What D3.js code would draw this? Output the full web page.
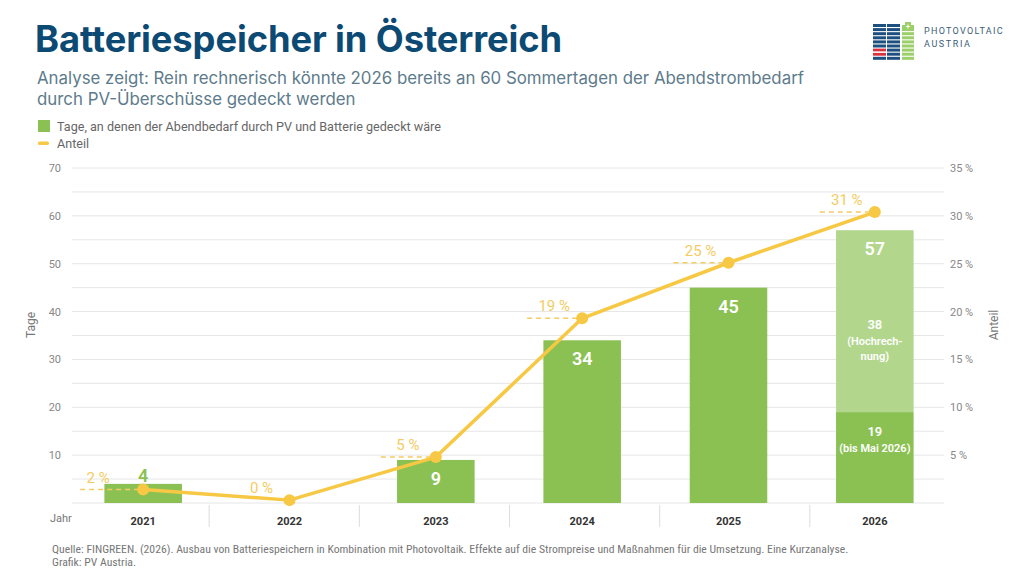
<!DOCTYPE html>
<html>
<head>
<meta charset="utf-8">
<script src="https://cdn.jsdelivr.net/npm/d3@7"></script>
<style>
  body { margin: 0; background: #fff; }
  svg { display: block; }
  text { font-family: Roboto, "Noto Sans", sans-serif; }
</style>
</head>
<body>
<div id="chart"></div>
<script>
const years = ['2021', '2022', '2023', '2024', '2025', '2026'];
const daysMeasured = [4, 0, 9, 34, 45, 19];
const daysProjected = [0, 0, 0, 0, 0, 38];
const share = [1.4, 0.3, 4.8, 19.3, 25.1, 30.4];
const shareLabels = ['2 %', '0 %', '5 %', '19 %', '25 %', '31 %'];
const leftTicks = [10, 20, 30, 40, 50, 60, 70];
const rightTicks = [5, 10, 15, 20, 25, 30, 35];
const gridValues = d3.range(0, 75, 5);

const width = 1024, height = 576;
const green = '#8bc153', lightGreen = '#b3d68d', yellow = '#f7c843', yellowText = '#f3cc62';

const svg = d3.select('#chart').append('svg')
    .attr('width', width)
    .attr('height', height);

// title block
svg.append('text')
    .attr('x', 35).attr('y', 52)
    .style('font-family', 'Inter, sans-serif')
    .style('font-weight', 700)
    .style('font-size', '36.3px')
    .style('letter-spacing', '-0.1px')
    .attr('fill', '#0c4a73')
    .text('Batteriespeicher in Österreich');

const sub = svg.append('text')
    .style('font-family', 'Inter, sans-serif')
    .style('font-size', '16.85px')
    .attr('fill', '#5d7b8b');
sub.append('tspan').attr('x', 37).attr('y', 84)
    .text('Analyse zeigt: Rein rechnerisch könnte 2026 bereits an 60 Sommertagen der Abendstrombedarf');
sub.append('tspan').attr('x', 37).attr('y', 105)
    .text('durch PV-Überschüsse gedeckt werden');

// legend
svg.append('rect').attr('x', 38).attr('y', 120).attr('width', 12).attr('height', 12).attr('fill', green);
svg.append('text').attr('x', 57).attr('y', 130.5)
    .style('font-size', '12.6px').attr('fill', '#666')
    .text('Tage, an denen der Abendbedarf durch PV und Batterie gedeckt wäre');
svg.append('rect').attr('x', 38).attr('y', 141.5).attr('width', 11).attr('height', 3.5).attr('rx', 1.5).attr('fill', yellow);
svg.append('text').attr('x', 57).attr('y', 147.5)
    .style('font-size', '12.6px').attr('fill', '#666')
    .text('Anteil');

// logo
const logo = svg.append('g').attr('transform', 'translate(873,22)');
const rows = d3.range(9);
[0, 14].forEach(cx => {
  logo.selectAll(null).data(rows).enter().append('rect')
      .attr('x', cx).attr('y', r => 2 + r * 4.1)
      .attr('width', 13).attr('height', 3)
      .attr('fill', r => (cx === 0 && (r === 6 || r === 7)) ? '#d9323c' : '#1d4f80');
});
logo.append('rect').attr('x', 0).attr('y', 2 + 6 * 4.1 + 3).attr('width', 13).attr('height', 1.1).attr('fill', '#fff');
logo.selectAll(null).data(rows).enter().append('rect')
    .attr('x', 29).attr('y', r => 2 + r * 4.1)
    .attr('width', 12).attr('height', 3)
    .attr('fill', r => r === 0 ? 'none' : '#9ccf69');
logo.append('rect').attr('x', 29).attr('y', 3).attr('width', 12).attr('height', 4).attr('fill', '#9ccf69');
logo.append('rect').attr('x', 32).attr('y', 0).attr('width', 6).attr('height', 4).attr('fill', '#9ccf69');
logo.append('text').attr('x', 35).attr('y', 7).attr('text-anchor', 'middle')
    .style('font-size', '7px').style('font-weight', 700).attr('fill', '#fff').text('+');
logo.append('text').attr('x', 51).attr('y', 12)
    .style('font-size', '9px').style('letter-spacing', '1.3px').attr('fill', '#3b5d78')
    .text('PHOTOVOLTAIC');
logo.append('text').attr('x', 51).attr('y', 25)
    .style('font-size', '9px').style('letter-spacing', '1.6px').attr('fill', '#3b5d78')
    .text('AUSTRIA');

// scales
const x = d3.scaleBand()
    .domain(years)
    .range([70, 948])
    .paddingInner(0.47)
    .paddingOuter(0.235);

const xCol = d3.scaleBand()
    .domain(years)
    .range([59, 960]);

const y = d3.scaleLinear().domain([0, 70]).range([503, 168]);
const yR = d3.scaleLinear().domain([0, 35]).range([503, 168]);

const cx = d => x(d) + x.bandwidth() / 2;

// grid
svg.append('g').selectAll('line').data(gridValues).enter().append('line')
    .attr('x1', 72).attr('x2', 944)
    .attr('y1', d => y(d)).attr('y2', d => y(d))
    .attr('stroke', '#e6e6e6').attr('stroke-width', 1);

// axes
const yAxis = d3.axisLeft(y).tickValues(leftTicks).tickSize(0).tickPadding(0);
const yAxisGroup = svg.append('g')
    .attr('class', 'axis y-axis')
    .attr('transform', 'translate(61,0)')
    .call(yAxis);

const yAxisR = d3.axisRight(yR).tickValues(rightTicks).tickSize(0).tickPadding(0)
    .tickFormat(d => d + ' %');
const yAxisRGroup = svg.append('g')
    .attr('class', 'axis y-axis-right')
    .attr('transform', 'translate(950,0)')
    .call(yAxisR);

[yAxisGroup, yAxisRGroup].forEach(g => {
  g.select('.domain').remove();
  g.selectAll('text').style('font-size', '11px').attr('fill', '#888');
});

svg.append('text')
    .attr('transform', 'translate(35,325) rotate(-90)')
    .attr('text-anchor', 'middle')
    .style('font-size', '12px').attr('fill', '#777')
    .text('Tage');
svg.append('text')
    .attr('transform', 'translate(998,325) rotate(-90)')
    .attr('text-anchor', 'middle')
    .style('font-size', '12px').attr('fill', '#777')
    .text('Anteil');

// x axis
const xAxis = d3.axisBottom(x).tickSize(0).tickPadding(14);
const xAxisGroup = svg.append('g')
    .attr('class', 'axis x-axis')
    .attr('transform', 'translate(0,503)')
    .call(xAxis);
xAxisGroup.select('.domain').remove();
xAxisGroup.selectAll('text')
    .style('font-size', '11px').style('font-weight', 700).attr('fill', '#333');

svg.append('g').selectAll('line').data(years.slice(1)).enter().append('line')
    .attr('x1', d => xCol(d)).attr('x2', d => xCol(d))
    .attr('y1', 505).attr('y2', 527)
    .attr('stroke', '#ddd').attr('stroke-width', 1);

svg.append('text').attr('x', 50).attr('y', 522)
    .style('font-size', '11px').attr('fill', '#777').text('Jahr');

// bars
const barData = years.map((d, i) => ({
  year: d, measured: daysMeasured[i], projected: daysProjected[i],
  share: share[i], label: shareLabels[i]
}));
const isSmall = d => (y(0) - y(d.measured + d.projected)) < 25;

svg.selectAll('rect.bar')
    .data(barData.filter(d => d.measured > 0))
    .enter()
    .append('rect')
    .attr('class', 'bar')
    .attr('x', d => x(d.year))
    .attr('width', x.bandwidth())
    .attr('y', d => y(d.measured))
    .attr('height', d => y(0) - y(d.measured))
    .attr('fill', green);

svg.selectAll('rect.bar-proj')
    .data(barData.filter(d => d.projected > 0))
    .enter()
    .append('rect')
    .attr('class', 'bar-proj')
    .attr('x', d => x(d.year))
    .attr('width', x.bandwidth())
    .attr('y', d => y(d.measured + d.projected))
    .attr('height', d => y(d.measured) - y(d.measured + d.projected))
    .attr('fill', lightGreen);

// bar totals
svg.selectAll('text.total')
    .data(barData.filter(d => d.measured + d.projected > 0))
    .enter()
    .append('text')
    .attr('class', 'total')
    .attr('x', d => cx(d.year))
    .attr('y', d => {
      const top = y(d.measured + d.projected);
      return isSmall(d) ? top - 2 : top + 25;
    })
    .attr('text-anchor', 'middle')
    .style('font-size', '18px').style('font-weight', 600)
    .attr('fill', d => isSmall(d) ? green : '#fff')
    .text(d => d.measured + d.projected);

// split labels for the projected bar
const proj = barData.filter(d => d.projected > 0);
const projLabel = svg.selectAll('text.proj-label').data(proj).enter().append('text')
    .attr('class', 'proj-label')
    .attr('text-anchor', 'middle')
    .attr('fill', '#fff').style('font-size', '11px').style('font-weight', 600);
projLabel.append('tspan').attr('x', d => cx(d.year))
    .attr('y', d => y(d.measured + d.projected / 2) + 8)
    .style('font-size', '13px').text(d => d.projected);
projLabel.append('tspan').attr('x', d => cx(d.year)).attr('dy', 16).text('(Hochrech-');
projLabel.append('tspan').attr('x', d => cx(d.year)).attr('dy', 15).text('nung)');

const measLabel = svg.selectAll('text.meas-label').data(proj).enter().append('text')
    .attr('class', 'meas-label')
    .attr('text-anchor', 'middle')
    .attr('fill', '#fff').style('font-size', '11px').style('font-weight', 600);
measLabel.append('tspan').attr('x', d => cx(d.year))
    .attr('y', d => y(d.measured) + 24)
    .style('font-size', '13px').text(d => d.measured);
measLabel.append('tspan').attr('x', d => cx(d.year)).attr('dy', 16).text('(bis Mai 2026)');

// share line
const line = d3.line()
    .x(d => cx(d.year))
    .y(d => yR(d.share));

svg.append('path')
    .datum(barData)
    .attr('d', line)
    .attr('fill', 'none')
    .attr('stroke', yellow)
    .attr('stroke-width', 3.5)
    .attr('stroke-linejoin', 'round');

// dashed leaders
svg.selectAll('line.leader')
    .data(barData.filter(d => d.share >= 1))
    .enter()
    .append('line')
    .attr('class', 'leader')
    .attr('x1', d => cx(d.year) - (isSmall(d) ? 63 : 55)).attr('x2', d => cx(d.year))
    .attr('y1', d => yR(d.share)).attr('y2', d => yR(d.share))
    .attr('stroke', yellowText).attr('stroke-width', 1.5)
    .attr('stroke-dasharray', '5,4');

svg.selectAll('circle.point')
    .data(barData)
    .enter()
    .append('circle')
    .attr('class', 'point')
    .attr('cx', d => cx(d.year))
    .attr('cy', d => yR(d.share))
    .attr('r', 6)
    .attr('fill', yellow);

svg.selectAll('text.share')
    .data(barData)
    .enter()
    .append('text')
    .attr('class', 'share')
    .attr('x', d => cx(d.year) - (isSmall(d) && d.measured > 0 ? 45 : 28))
    .attr('y', d => yR(d.share) - 7)
    .attr('text-anchor', 'middle')
    .style('font-size', '15px')
    .attr('fill', yellowText)
    .text(d => d.label);

// source
const src = svg.append('text')
    .style('font-family', '"Liberation Sans Narrow", "Roboto Condensed", sans-serif')
    .style('font-size', '11.7px')
    .attr('fill', '#777');
src.append('tspan').attr('x', 52).attr('y', 553)
    .text('Quelle: FINGREEN. (2026). Ausbau von Batteriespeichern in Kombination mit Photovoltaik. Effekte auf die Strompreise und Maßnahmen für die Umsetzung. Eine Kurzanalyse.');
src.append('tspan').attr('x', 52).attr('y', 566)
    .text('Grafik: PV Austria.');
</script>
</body>
</html>
